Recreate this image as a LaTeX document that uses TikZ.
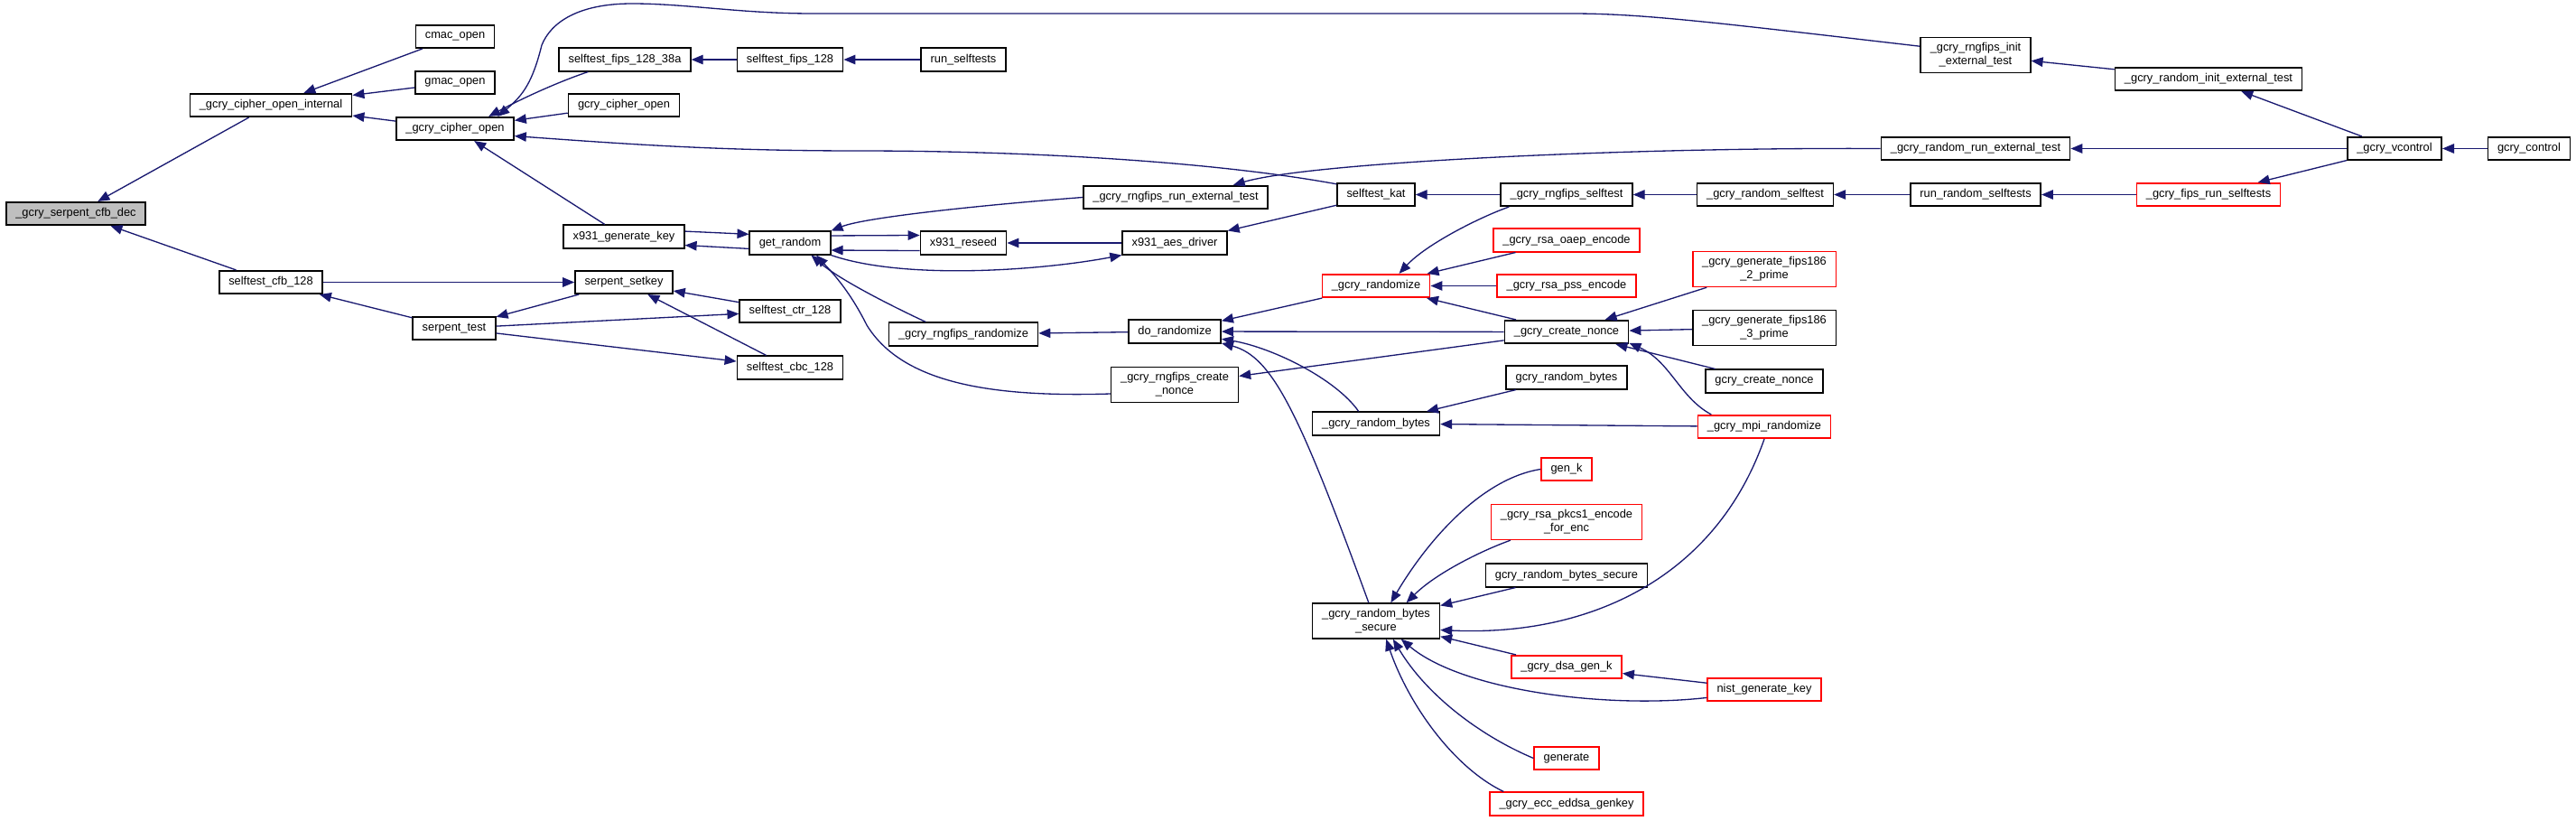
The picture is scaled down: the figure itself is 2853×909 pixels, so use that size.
\documentclass[tikz,border=0pt]{standalone}
\usepackage{fontspec}
\setmainfont{Liberation Sans}
\usepackage{xcolor}
\usepackage{tikz}
\usetikzlibrary{arrows.meta,positioning}
\definecolor{edgeBlue}{HTML}{191970}
\definecolor{rootGray}{HTML}{BFBFBF}
\definecolor{boxRed}{HTML}{FF0000}

\begin{document}
\begin{tikzpicture}[x=0.02cm,y=-0.02cm,
  font=\fontsize{7.3}{8.5}\selectfont,
  fn/.style={draw=black,line width=0.9pt,fill=white,inner xsep=0.21cm,inner ysep=0.12cm,minimum height=0.51cm,align=center},
  fnred/.style={fn,draw=boxRed},
  root/.style={fn,fill=rootGray},
  call/.style={draw=edgeBlue,line width=0.75pt,-{Triangle[length=0.26cm,width=0.21cm]}}]
\useasboundingbox (0,0) rectangle (2853,909);
% --- serpent / cipher side ---
\node[root] (serpent) at (84,236.5) {\_gcry\_serpent\_cfb\_dec};
\node[fn] (cipint) at (300,116.5) {\_gcry\_cipher\_open\_internal};
\node[fn] (sfcfb) at (300,312.5) {selftest\_cfb\_128};
\node[fn] (cmac) at (504,40.5) {cmac\_open};
\node[fn] (gmac) at (504,91.5) {gmac\_open};
\node[fn] (gcopen) at (504,142.5) {\_gcry\_cipher\_open};
\node[fn] (stest) at (503,363.5) {serpent\_test};
\node[fn] (sf38a) at (692,66) {selftest\_fips\_128\_38a};
\node[fn] (gcryco) at (691,116.5) {gcry\_cipher\_open};
\node[fn] (x931gk) at (691,262) {x931\_generate\_key};
\node[fn] (setkey) at (691,312.5) {serpent\_setkey};
\node[fn] (sf128) at (875,66) {selftest\_fips\_128};
\node[fn] (getrnd) at (875,269) {get\_random};
\node[fn] (sfctr) at (875,344.5) {selftest\_ctr\_128};
\node[fn] (sfcbc) at (875,407) {selftest\_cbc\_128};
\node[fn] (runst) at (1067,66) {run\_selftests};
\node[fn] (reseed) at (1067,269) {x931\_reseed};
\node[fn] (rfrand) at (1067,370) {\_gcry\_rngfips\_randomize};
\node[fn] (rfrunext) at (1302,218.5) {\_gcry\_rngfips\_run\_external\_test};
\node[fn] (aesdrv) at (1301,269) {x931\_aes\_driver};
\node[fn] (dorand) at (1301,367) {do\_randomize};
\node[fn] (rfnonce) at (1301,426) {\_gcry\_rngfips\_create\\\_nonce};
% --- random side ---
\node[fn] (kat) at (1524,215.5) {selftest\_kat};
\node[fnred] (randz) at (1524,316.5) {\_gcry\_randomize};
\node[fn] (rb) at (1524,469) {\_gcry\_random\_bytes};
\node[fn] (rbs) at (1524,687.5) {\_gcry\_random\_bytes\\\_secure};
\node[fn] (rfself) at (1735,215.5) {\_gcry\_rngfips\_selftest};
\node[fnred] (oaep) at (1735,266) {\_gcry\_rsa\_oaep\_encode};
\node[fnred] (pss) at (1735,316.5) {\_gcry\_rsa\_pss\_encode};
\node[fn] (cnonce) at (1735,367.5) {\_gcry\_create\_nonce};
\node[fn] (grb) at (1735,418) {gcry\_random\_bytes};
\node[fnred] (genk) at (1735,519.5) {gen\_k};
\node[fnred] (pkcs1) at (1735,578) {\_gcry\_rsa\_pkcs1\_encode\\\_for\_enc};
\node[fn] (grbs) at (1735,637) {gcry\_random\_bytes\_secure};
\node[fnred] (dsak) at (1735,738.5) {\_gcry\_dsa\_gen\_k};
\node[fnred] (gener) at (1735,839.5) {generate};
\node[fnred] (eddsa) at (1735,890) {\_gcry\_ecc\_eddsa\_genkey};
\node[fn] (rself) at (1955,215.5) {\_gcry\_random\_selftest};
\node[fnred] (fips2) at (1954,298) {\_gcry\_generate\_fips186\\\_2\_prime};
\node[fn] (fips3) at (1954,363) {\_gcry\_generate\_fips186\\\_3\_prime};
\node[fn] (gcnonce) at (1954,422) {gcry\_create\_nonce};
\node[fnred] (mpir) at (1954,472.5) {\_gcry\_mpi\_randomize};
\node[fnred] (nist) at (1954,763.5) {nist\_generate\_key};
\node[fn] (rfinit) at (2188,61) {\_gcry\_rngfips\_init\\\_external\_test};
\node[fn] (rrunext) at (2188,164.5) {\_gcry\_random\_run\_external\_test};
\node[fn] (runrs) at (2188,215.5) {run\_random\_selftests};
\node[fn] (rinit) at (2446,87.5) {\_gcry\_random\_init\_external\_test};
\node[fnred] (fipsrun) at (2446,215.5) {\_gcry\_fips\_run\_selftests};
\node[fn] (vctl) at (2652,164.5) {\_gcry\_vcontrol};
\node[fn] (gctl) at (2801,164.5) {gcry\_control};
% --- calls (arrow at the callee) ---
\draw[call] (cipint) -- (serpent);
\draw[call] (sfcfb) -- (serpent);
\draw[call] (cmac) -- (cipint);
\draw[call] (gmac) -- (cipint);
\draw[call] (gcopen) -- (cipint);
\draw[call] (rfinit.171) .. controls (1900,25) and (1820,15) .. (1740,15) -- (900,15)
  .. controls (820,15) and (760,4) .. (700,4) .. controls (640,4) and (610,25) .. (600,50)
  .. controls (590,90) and (580,105) .. (gcopen.16);
\draw[call] (sf38a) .. controls (620,90) and (580,108) .. (gcopen.20);
\draw[call] (gcryco) -- (gcopen);
\draw[call] (kat.165) .. controls (1350,180) and (1150,167) .. (950,167)
  .. controls (800,167) and (700,160) .. (gcopen.-7);
\draw[call] (x931gk) -- (gcopen);
\draw[call] (sf128) -- (sf38a);
\draw[call] (runst) -- (sf128);
\draw[call] (x931gk.5) -- (getrnd.168);
\draw[call] (getrnd.188) -- (x931gk.-8);
\draw[call] (getrnd.10) -- (reseed.170);
\draw[call] (reseed.190) -- (getrnd.-10);
\draw[call] (aesdrv) -- (reseed);
\draw[call] (getrnd.south east) .. controls (1000,310) and (1150,300) .. (aesdrv.south west);
\draw[call] (rfrunext.west) .. controls (1100,226) and (960,240) .. (getrnd.north east);
\draw[call] (rfrand.162) .. controls (990,340) and (930,310) .. (getrnd.-30);
\draw[call] (rfnonce.188) .. controls (1100,440) and (1000,425) .. (960,360)
  .. controls (940,320) and (920,300) .. (getrnd.-25);
\draw[call] (rrunext.west) .. controls (1800,163) and (1450,180) .. (rfrunext.12);
\draw[call] (kat.195) -- (aesdrv.13);
\draw[call] (rfself) -- (kat);
\draw[call] (rself) -- (rfself);
\draw[call] (runrs) -- (rself);
\draw[call] (fipsrun) -- (runrs);
\draw[call] (vctl) -- (fipsrun);
\draw[call] (vctl) -- (rrunext);
\draw[call] (vctl) -- (rinit);
\draw[call] (rinit) -- (rfinit);
\draw[call] (gctl) -- (vctl);
\draw[call] (rfself.192) .. controls (1640,240) and (1580,270) .. (randz.28);
\draw[call] (oaep) -- (randz);
\draw[call] (pss) -- (randz);
\draw[call] (cnonce) -- (randz);
\draw[call] (randz) -- (dorand);
\draw[call] (cnonce) -- (dorand);
\draw[call] (cnonce) -- (rfnonce);
\draw[call] (rb.145) .. controls (1480,420) and (1410,385) .. (dorand.-9);
\draw[call] (rbs.112) .. controls (1440,460) and (1410,395) .. (dorand.-14);
\draw[call] (dorand) -- (rfrand);
\draw[call] (grb) -- (rb);
\draw[call] (mpir) -- (rb);
\draw[call] (fips2) -- (cnonce);
\draw[call] (fips3) -- (cnonce);
\draw[call] (gcnonce) -- (cnonce);
\draw[call] (mpir.167) .. controls (1860,440) and (1850,400) .. (cnonce.-10);
\draw[call] (genk.west) .. controls (1640,530) and (1580,600) .. (rbs.51);
\draw[call] (pkcs1.198) .. controls (1640,610) and (1590,635) .. (rbs.31);
\draw[call] (grbs) -- (rbs);
\draw[call] (mpir.south) .. controls (1900,640) and (1760,705) .. (rbs.-8);
\draw[call] (dsak) -- (rbs);
\draw[call] (nist) -- (dsak);
\draw[call] (nist.188) .. controls (1780,785) and (1620,765) .. (rbs.-36);
\draw[call] (gener.west) .. controls (1640,815) and (1580,770) .. (rbs.-47);
\draw[call] (eddsa.169) .. controls (1610,850) and (1560,780) .. (rbs.-61);
% --- serpent self tests ---
\draw[call] (sfcfb) -- (setkey);
\draw[call] (stest) -- (sfcfb);
\draw[call] (setkey) -- (stest);
\draw[call] (sfctr) -- (setkey);
\draw[call] (sfcbc) -- (setkey);
\draw[call] (stest) -- (sfctr);
\draw[call] (stest) -- (sfcbc);
\end{tikzpicture}
\end{document}
